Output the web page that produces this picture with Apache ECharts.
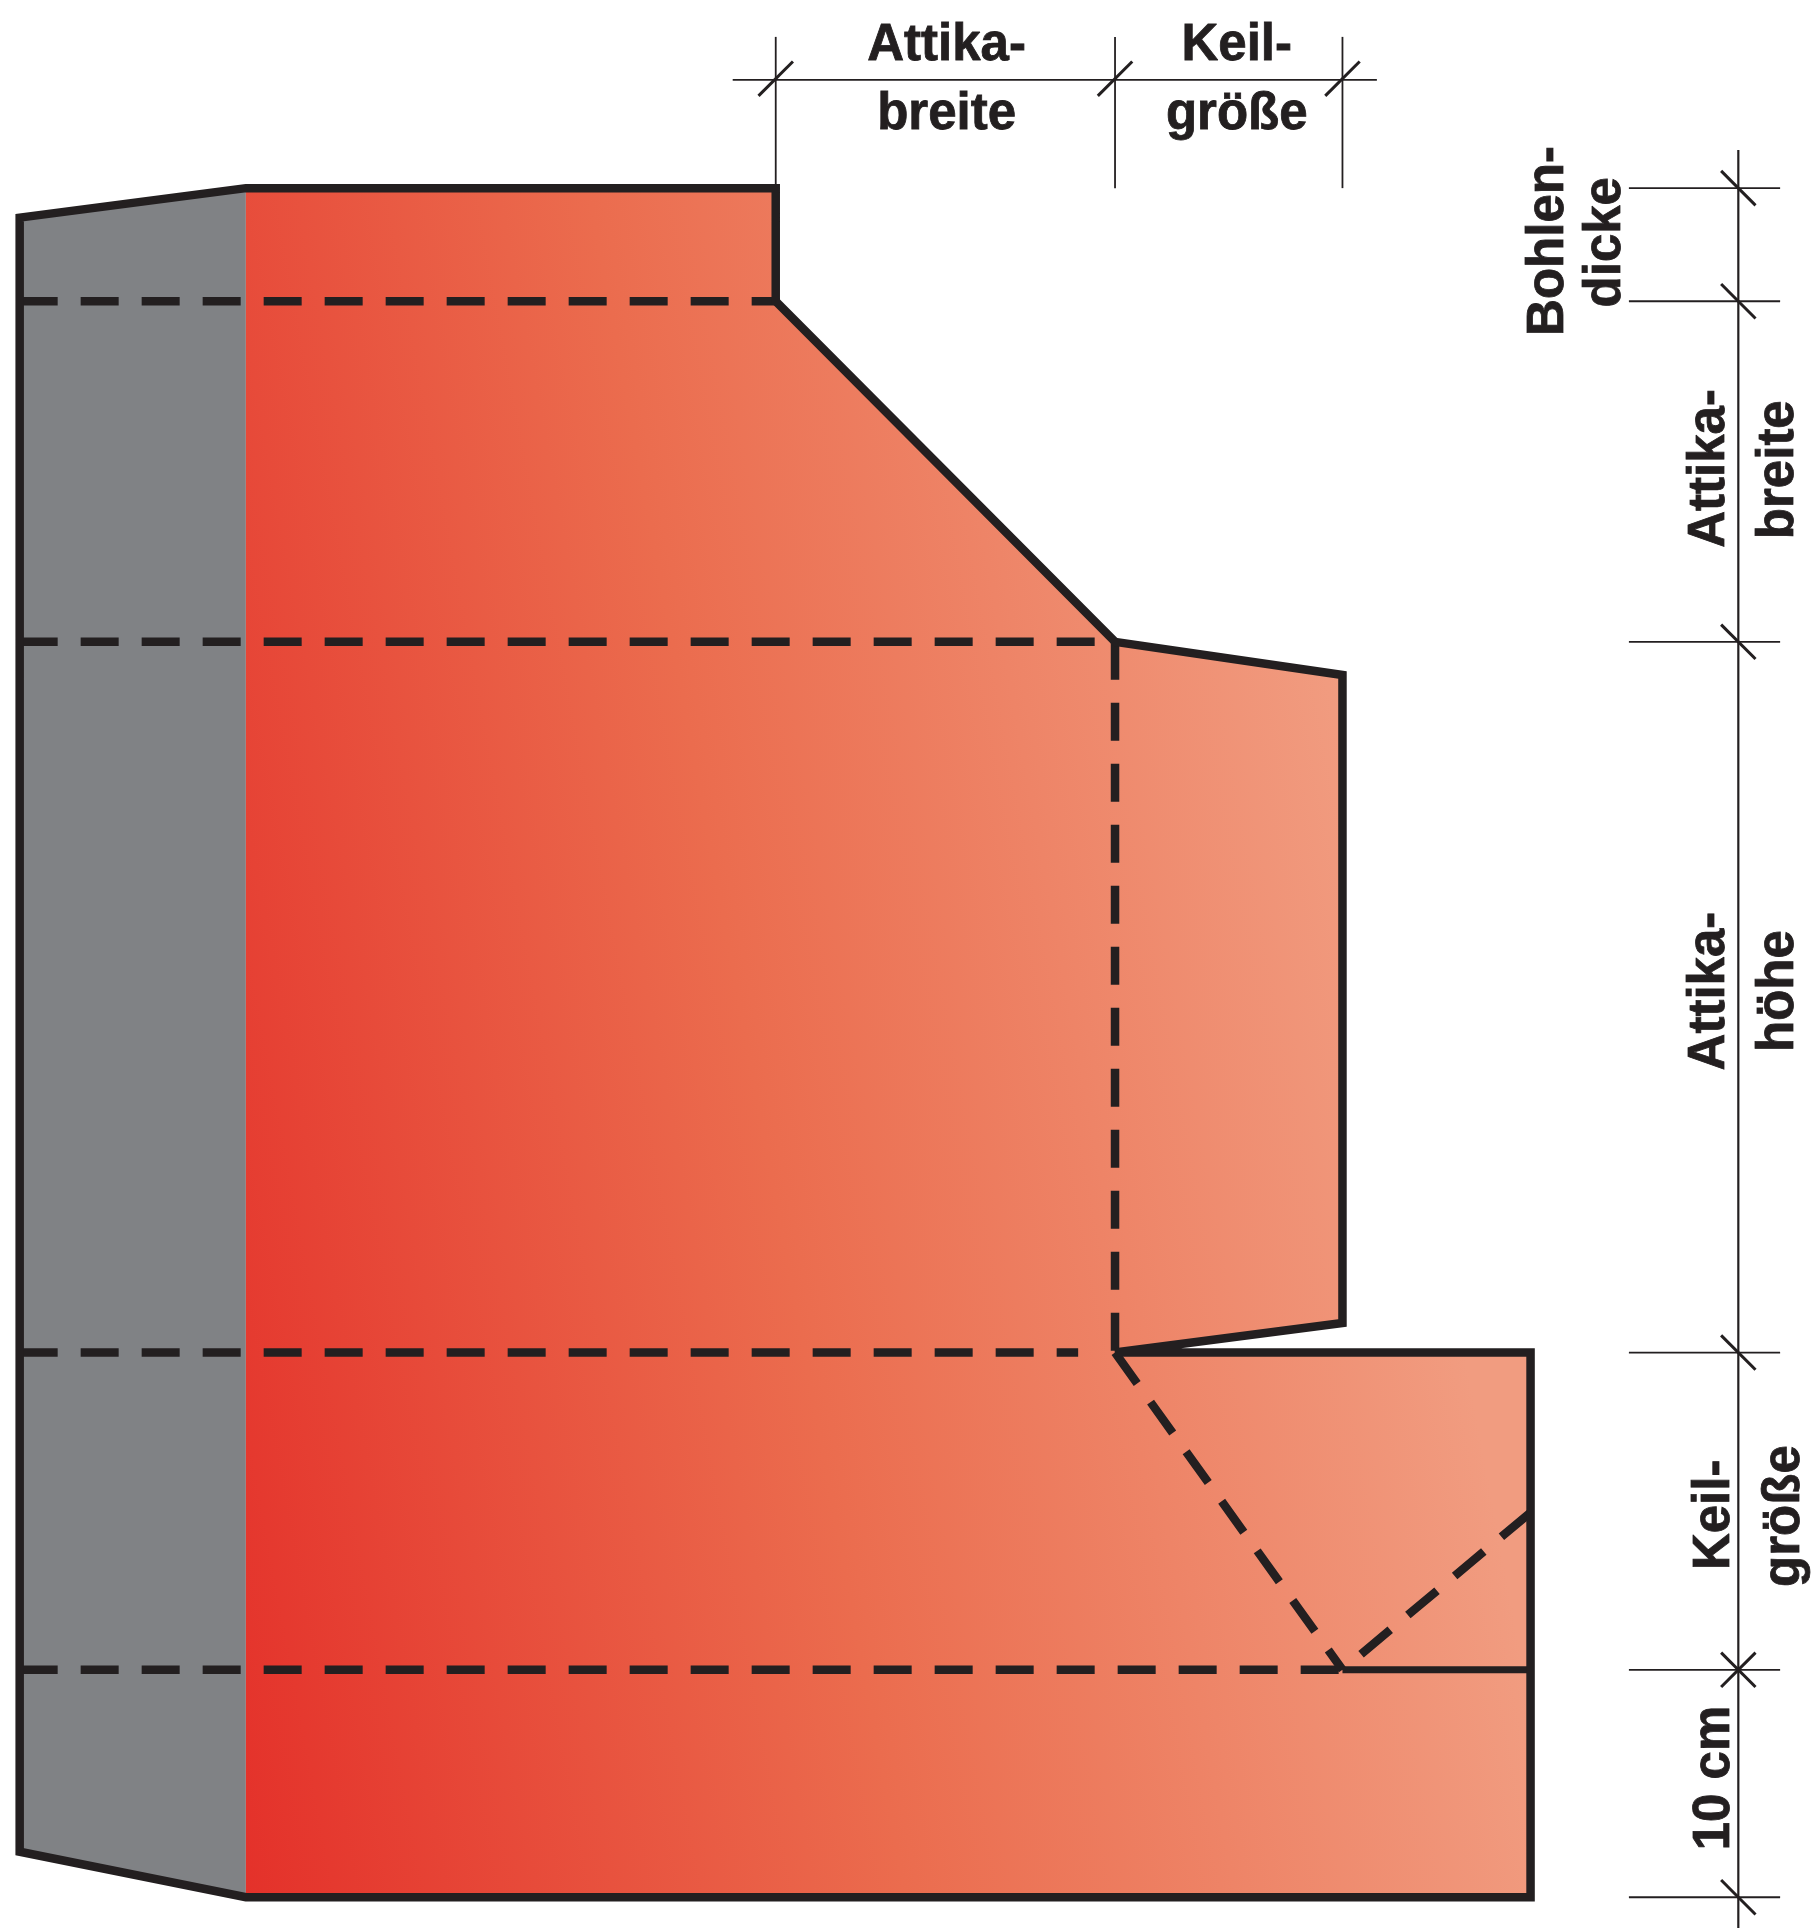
<!DOCTYPE html>
<html><head><meta charset="utf-8">
<style>html,body{margin:0;padding:0;background:#fff}#c{width:1817px;height:1928px}</style>
<script src="https://cdn.jsdelivr.net/npm/echarts@6/dist/echarts.min.js"></script>
</head><body><div id="c"></div>
<script>
const grayWall = [[16,177],[200,153],[200,1543],[16,1506]];
const redBody = [[200,153],[631,153],[631,245],[907,522],[1092,549],[1092,1076],[907,1100],[1245,1100],[1245,1543],[200,1543]];
const outline = [[16,177],[200,153],[631,153],[631,245],[907,522],[1092,549],[1092,1076],[907,1100],[1245,1100],[1245,1543],[200,1543],[16,1506]];
const dashedRuns = [
  [[16,245],[631,245]],
  [[16,522],[907,522]],
  [[16,1100],[877,1100]],
  [[16,1358],[1092,1358]],
  [[907,522],[907,1100]],
  [[907,1100],[1092,1358]],
  [[1245,1230],[1092,1358]]
];
const solidRuns = [[[1092,1358],[1245,1358]]];
const topDimLine = [[596,65],[1120,65]];
const topDimStops = [631,907,1092];
const rightDimLine = [[1414,122],[1414,1568]];
const rightDimStops = [153,245,522,1100,1358,1543];
const labels = [
  ['Attika-',770,58,0],['breite',770,114,0],['Keil-',1006,58,0],['größe',1006,114,0],
  ['Bohlen-',1281,196,90],['dicke',1327,197,90],
  ['Attika-',1412,381,90],['breite',1468,382,90],
  ['Attika-',1412,806,90],['höhe',1468,806,90],
  ['Keil-',1416,1232,90],['größe',1473,1233,90],
  ['10 cm',1416,1446,90]
];
const ink = '#231F20';
const fillGradient = {type:'linear',global:true,
  x:200*1.2277,y:1543*1.2296,x2:1240*1.2277,y2:1350*1.2296,
  colorStops:[{offset:0,color:'#E4312A'},{offset:0.5,color:'#EB6C4E'},{offset:1,color:'#F19C80'}]};

function polySeries(pts, style, z){
  return {type:'custom',coordinateSystem:'cartesian2d',silent:true,z:z,clip:false,
    data:pts,
    renderItem:function(p,api){
      if(p.dataIndex!==0) return null;
      return {type:'polygon',shape:{points:pts.map(function(q){return api.coord(q);})},style:style};
    }};
}
function lineSeries(pts,width,dash,z,color){
  return {type:'line',data:pts,showSymbol:false,symbol:'none',silent:true,z:z,clip:false,
    lineStyle:{color:color||ink,width:width,type:dash||'solid',cap:'butt'}};
}
const series = [];
series.push(polySeries(grayWall,{fill:'#808285'},1));
series.push(polySeries(redBody,{fill:fillGradient},2));
dashedRuns.forEach(function(r){series.push(lineSeries(r,8.5,[38,23],3));});
solidRuns.forEach(function(r){series.push(lineSeries(r,7,null,4));});
series.push(polySeries(outline,{fill:'none',stroke:ink,lineWidth:8.5,lineJoin:'miter',miterLimit:10},5));
series.push(lineSeries(topDimLine,1.8,null,3));
topDimStops.forEach(function(x){
  series.push(lineSeries([[x,30],[x,153]],1.8,null,3));
  series.push(lineSeries([[x-14,78],[x+14,50]],3,null,3));
});
series.push(lineSeries(rightDimLine,2.2,null,3));
rightDimStops.forEach(function(y,i){
  series.push(lineSeries([[1325,y],[1448,y]],1.8,null,3));
  series.push(lineSeries([[1400,y-14],[1428,y+14]],3,null,3));
  if(y===1358) series.push(lineSeries([[1400,y+14],[1428,y-14]],3,null,3));
});
series.push({type:'custom',coordinateSystem:'cartesian2d',silent:true,z:6,clip:false,
  data:labels.map(function(l){return [l[1],l[2]];}),
  renderItem:function(p,api){
    const l=labels[p.dataIndex];
    const c=api.coord([l[1],l[2]]);
    return {type:'text',x:c[0],y:c[1],rotation:l[3]*Math.PI/180,
      style:{text:l[0],fill:ink,stroke:ink,lineWidth:0.8,font:'bold 51px "Liberation Sans"',align:'center',verticalAlign:'bottom'}};
  }});
const chart = echarts.init(document.getElementById('c'),null,{renderer:'canvas'});
chart.setOption({
  animation:false,backgroundColor:'#fff',
  grid:{left:0,right:0,top:0,bottom:0},
  xAxis:{type:'value',min:0,max:1478,show:false},
  yAxis:{type:'value',min:0,max:1568,inverse:true,show:false},
  series:series
});
</script></body></html>
